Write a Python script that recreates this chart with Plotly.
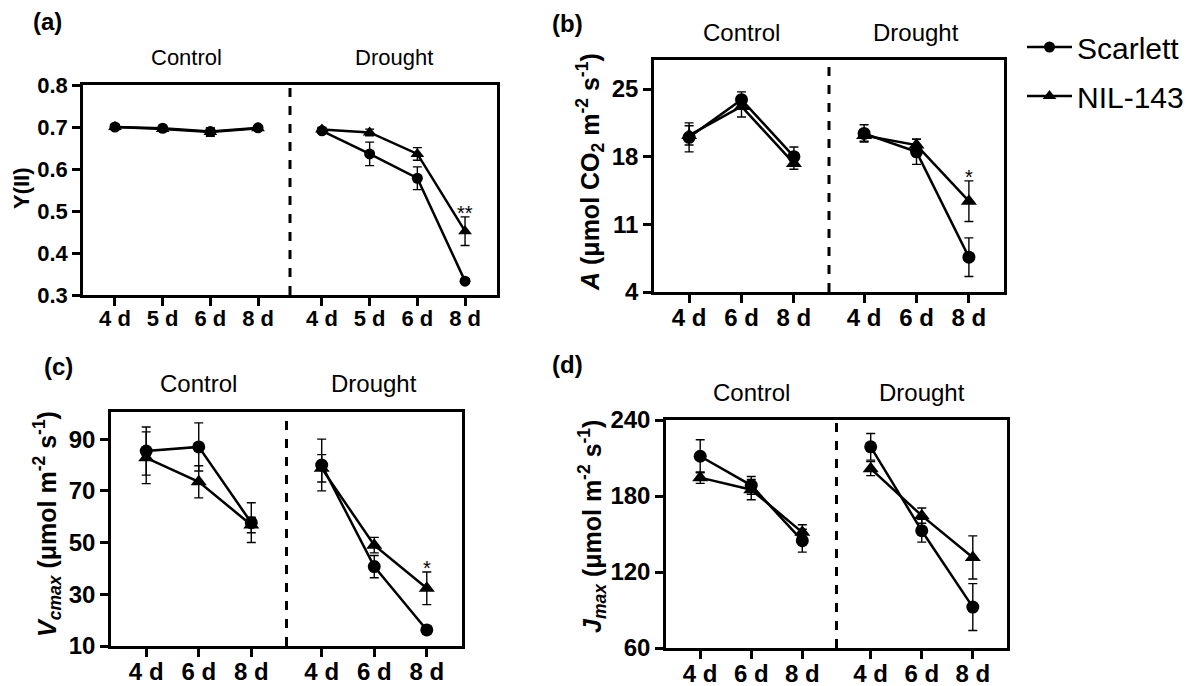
import plotly.graph_objects as go

W, H = 1201, 686
FONT = "Liberation Sans"
GAP = 1.34  # distance between last Control day and first Drought day, in category units

# ---- data -------------------------------------------------------------
days_a = ["4 d", "5 d", "6 d", "8 d"]
a_scar_ctrl = [0.700, 0.697, 0.689, 0.698]
a_scar_ctrl_err = [0.006, 0.004, 0.008, 0.004]
a_nil_ctrl = [0.700, 0.695, 0.688, 0.697]
a_nil_ctrl_err = [0.006, 0.005, 0.010, 0.004]
a_scar_dr = [0.691, 0.636, 0.578, 0.333]
a_scar_dr_err = [0.006, 0.028, 0.027, 0.005]
a_nil_dr = [0.694, 0.687, 0.636, 0.452]
a_nil_dr_err = [0.005, 0.008, 0.015, 0.034]

days_bcd = ["4 d", "6 d", "8 d"]
b_scar_ctrl = [20.0, 23.9, 18.0]
b_scar_ctrl_err = [1.5, 0.8, 1.0]
b_nil_ctrl = [20.2, 23.2, 17.3]
b_nil_ctrl_err = [1.0, 1.1, 0.6]
b_scar_dr = [20.4, 18.5, 7.6]
b_scar_dr_err = [0.9, 1.3, 2.0]
b_nil_dr = [20.2, 19.2, 13.4]
b_nil_dr_err = [0.6, 0.6, 2.1]

c_scar_ctrl = [85.4, 87.0, 57.7]
c_scar_ctrl_err = [9.3, 9.3, 7.7]
c_nil_ctrl = [82.8, 73.5, 56.8]
c_nil_ctrl_err = [10.0, 6.2, 3.0]
c_scar_dr = [80.0, 40.7, 16.2]
c_scar_dr_err = [10.0, 4.3, 1.5]
c_nil_dr = [78.7, 49.0, 32.3]
c_nil_dr_err = [5.3, 3.0, 6.3]

d_scar_ctrl = [211.4, 188.4, 144.7]
d_scar_ctrl_err = [13.0, 7.0, 9.0]
d_nil_ctrl = [194.5, 185.0, 151.3]
d_nil_ctrl_err = [4.5, 8.0, 6.0]
d_scar_dr = [218.8, 152.6, 92.3]
d_scar_dr_err = [10.5, 9.0, 18.5]
d_nil_dr = [201.6, 164.5, 131.5]
d_nil_dr_err = [5.5, 6.0, 17.0]

groups = ["Control", "Drought"]
series_names = ["Scarlett", "NIL-143"]


def px_x(p):
    return p / W


def px_y(p):
    return 1 - p / H


panels = [
    dict(tag="(a)", days=days_a,
         scar=(a_scar_ctrl, a_scar_ctrl_err, a_scar_dr, a_scar_dr_err),
         nil=(a_nil_ctrl, a_nil_ctrl_err, a_nil_dr, a_nil_dr_err),
         box=(83, 497, 85, 295), yrange=[0.3, 0.8], ytick=[0.3, 0.4, 0.5, 0.6, 0.7, 0.8],
         yfmt=".1f", fs=22, group_y=58, tag_xy=(47, 22),
         title="Y(II)", title_xy=(22, 188), title_fs=22, star="**", msize=11),
    dict(tag="(b)", days=days_bcd,
         scar=(b_scar_ctrl, b_scar_ctrl_err, b_scar_dr, b_scar_dr_err),
         nil=(b_nil_ctrl, b_nil_ctrl_err, b_nil_dr, b_nil_dr_err),
         box=(654, 1004, 60, 292), yrange=[4, 28], ytick=[4, 11, 18, 25],
         yfmt="d", fs=24, group_y=32, tag_xy=(567, 23),
         title="<i>A</i> (μmol CO<sub>2</sub> m<sup>-2</sup> s<sup>-1</sup>)",
         title_xy=(590, 172), title_fs=25, star="*", msize=13),
    dict(tag="(c)", days=days_bcd,
         scar=(c_scar_ctrl, c_scar_ctrl_err, c_scar_dr, c_scar_dr_err),
         nil=(c_nil_ctrl, c_nil_ctrl_err, c_nil_dr, c_nil_dr_err),
         box=(111, 462, 412, 646), yrange=[10, 100.5], ytick=[10, 30, 50, 70, 90],
         yfmt="d", fs=24, group_y=383, tag_xy=(58, 366),
         title="<i>V<sub>cmax</sub></i> (μmol m<sup>-2</sup> s<sup>-1</sup>)",
         title_xy=(47, 524), title_fs=25, star="*", msize=13),
    dict(tag="(d)", days=days_bcd,
         scar=(d_scar_ctrl, d_scar_ctrl_err, d_scar_dr, d_scar_dr_err),
         nil=(d_nil_ctrl, d_nil_ctrl_err, d_nil_dr, d_nil_dr_err),
         box=(666, 1007, 420, 648), yrange=[60, 240], ytick=[60, 120, 180, 240],
         yfmt="d", fs=24, group_y=392, tag_xy=(567, 364),
         title="<i>J<sub>max</sub></i> (μmol m<sup>-2</sup> s<sup>-1</sup>)",
         title_xy=(592, 527), title_fs=25, star=None, msize=13),
]

fig = go.Figure()
annotations = []
shapes = []

for i, p in enumerate(panels, start=1):
    n = len(p["days"])
    x_ctrl = list(range(n))
    x_dr = [n - 1 + GAP + j for j in range(n)]
    xa = "x" if i == 1 else f"x{i}"
    ya = "y" if i == 1 else f"y{i}"

    for key, name, symbol in (("scar", "Scarlett", "circle"), ("nil", "NIL-143", "triangle-up")):
        ctrl, ctrl_err, dr, dr_err = p[key]
        size = p["msize"] + (1 if symbol == "triangle-up" else 0)
        for xs, ys, es, first in ((x_ctrl, ctrl, ctrl_err, True), (x_dr, dr, dr_err, False)):
            fig.add_trace(go.Scatter(
                x=xs, y=ys, xaxis=xa, yaxis=ya,
                mode="lines+markers", name=name,
                line=dict(color="black", width=2.5),
                marker=dict(symbol=symbol, size=size, color="black"),
                error_y=dict(type="data", array=es, visible=True,
                             color="black", thickness=1.4, width=4.5),
                showlegend=(i == 1 and first),
                legend="legend" if key == "scar" else "legend2",
                cliponaxis=False,
            ))

    x0, x1, y0, y1 = p["box"]
    last = x_dr[-1]
    axis_common = dict(showline=True, mirror=True, linecolor="black", linewidth=2.5,
                       ticks="outside", ticklen=8, tickwidth=2.5, tickcolor="black",
                       showgrid=False, zeroline=False, automargin=False)
    fig.update_layout(**{
        ("xaxis" if i == 1 else f"xaxis{i}"): dict(
            domain=[px_x(x0), px_x(x1)], anchor=ya,
            range=[-0.67, last + 0.67],
            tickvals=x_ctrl + x_dr, ticktext=p["days"] + p["days"],
            ticklabelstandoff=-6,
            tickfont=dict(family=FONT, size=p["fs"], color="black", weight="bold"),
            **axis_common),
        ("yaxis" if i == 1 else f"yaxis{i}"): dict(
            domain=[px_y(y1), px_y(y0)], anchor=xa,
            range=p["yrange"], tickvals=p["ytick"], tickformat=p["yfmt"],
            tickfont=dict(family=FONT, size=p["fs"], color="black", weight="bold"),
            **axis_common),
    })

    # dashed separator between the two treatments
    mid = (x_ctrl[-1] + x_dr[0]) / 2
    shapes.append(dict(type="line", xref=xa, yref=f"{ya} domain", x0=mid, x1=mid, y0=0, y1=1,
                       line=dict(color="black", width=3, dash="dash")))

    # treatment labels
    for g, xs in zip(groups, (x_ctrl, x_dr)):
        annotations.append(dict(text=g, xref=xa, yref="paper",
                                x=sum(xs) / len(xs), y=px_y(p["group_y"]),
                                showarrow=False, xanchor="center", yanchor="middle",
                                font=dict(family=FONT, size=p["fs"], color="black")))

    # panel tag
    annotations.append(dict(text=p["tag"], xref="paper", yref="paper",
                            x=px_x(p["tag_xy"][0]), y=px_y(p["tag_xy"][1]),
                            showarrow=False, xanchor="center", yanchor="middle",
                            font=dict(family=FONT, size=24, color="black", weight="bold")))

    # y-axis title
    annotations.append(dict(text=p["title"], xref="paper", yref="paper",
                            x=px_x(p["title_xy"][0]), y=px_y(p["title_xy"][1]),
                            textangle=-90, showarrow=False,
                            xanchor="center", yanchor="middle",
                            font=dict(family=FONT, size=p["title_fs"], color="black",
                                      weight="bold")))

    # significance mark above NIL-143 at the last drought day
    if p["star"]:
        nil_dr, nil_dr_err = p["nil"][2], p["nil"][3]
        annotations.append(dict(text=p["star"], xref=xa, yref=ya,
                                x=last, y=nil_dr[-1] + nil_dr_err[-1],
                                showarrow=False, xanchor="center", yanchor="middle",
                                yshift=4,
                                font=dict(family=FONT, size=20, color="black")))

legend_common = dict(font=dict(family=FONT, size=30, color="black"),
                     bgcolor="rgba(0,0,0,0)", xanchor="left", yanchor="middle",
                     itemsizing="trace", itemwidth=45)
fig.update_layout(
    template="none",
    width=W, height=H,
    margin=dict(l=0, r=0, t=0, b=0, autoexpand=False),
    paper_bgcolor="white", plot_bgcolor="white",
    showlegend=True,
    legend=dict(x=px_x(1022), y=px_y(47), **legend_common),
    legend2=dict(x=px_x(1022), y=px_y(96), **legend_common),
    annotations=annotations,
    shapes=shapes,
)

fig.write_html("out.html")
